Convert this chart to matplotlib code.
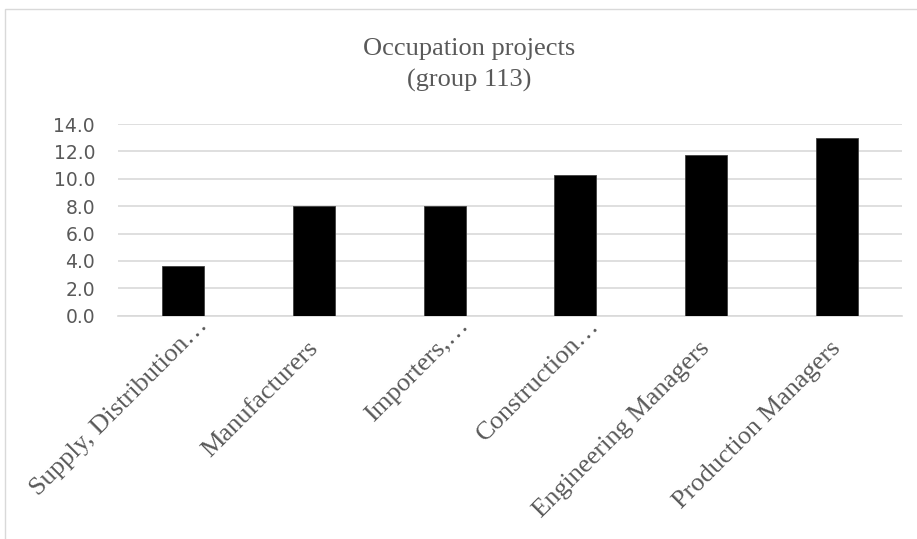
import matplotlib

matplotlib.use("Agg")
import matplotlib.pyplot as plt  # noqa: E402
from matplotlib.patches import Rectangle  # noqa: E402
from matplotlib.transforms import ScaledTranslation  # noqa: E402

TEXT_GRAY = "#595959"
GRID_GRAY = "#d9d9d9"

occupations = [
    "Supply, Distribution…",
    "Manufacturers",
    "Importers,…",
    "Construction…",
    "Engineering Managers",
    "Production Managers",
]
projects = [3.6, 8.0, 8.0, 10.3, 11.7, 13.0]
y_ticks = [0, 2, 4, 6, 8, 10, 12, 14]

fig = plt.figure(figsize=(9.17, 5.39), dpi=100)
fig.patch.set_facecolor("white")

# thin outer frame of the chart area
fig.patches.append(Rectangle((5 / 917, -0.05), 1.0, (539 - 9) / 539 + 0.05,
                             transform=fig.transFigure, fill=False,
                             ec=GRID_GRAY, lw=1.0))

ax = fig.add_axes([118 / 917, 1 - 315.7 / 539, 784 / 917, (315.7 - 124) / 539])
x = range(len(occupations))
ax.bar(x, projects, width=0.32, color="black", edgecolor="#404040", lw=0.6, zorder=3)

ax.set_xlim(-0.5, len(occupations) - 0.5)
ax.set_ylim(0, 14)
ax.set_yticks(y_ticks)
ax.set_yticklabels([f"{v:.1f}" for v in y_ticks], family="DejaVu Sans",
                   fontsize=13.5, color=TEXT_GRAY)
ax.yaxis.grid(True, color=GRID_GRAY, lw=1.2, zorder=0)
ax.set_axisbelow(True)
for side in ("top", "right", "left"):
    ax.spines[side].set_visible(False)
ax.spines["bottom"].set_color(GRID_GRAY)
ax.spines["bottom"].set_linewidth(1.2)
ax.tick_params(axis="y", length=0, pad=16.5)
ax.tick_params(axis="x", length=0, pad=10)

ax.set_xticks(list(x))
ax.set_xticklabels(occupations, rotation=45, ha="right", rotation_mode="anchor",
                   family="Liberation Serif", fontsize=19, color=TEXT_GRAY)
# truncated labels sit a bit further up the slant than the full ones
for lbl in ax.get_xticklabels():
    if lbl.get_text().endswith("…"):
        dx, dy = 0.13, 0.15
    else:
        dx, dy = -0.07, -0.08
    lbl.set_transform(lbl.get_transform() + ScaledTranslation(dx, dy, fig.dpi_scale_trans))

fig.text(469 / 917, 1 - 65 / 539, "Occupation projects\n(group 113)",
         ha="center", va="center", family="Liberation Serif", fontsize=19,
         color=TEXT_GRAY, linespacing=1.45)

fig.savefig("out.png", dpi=100)
